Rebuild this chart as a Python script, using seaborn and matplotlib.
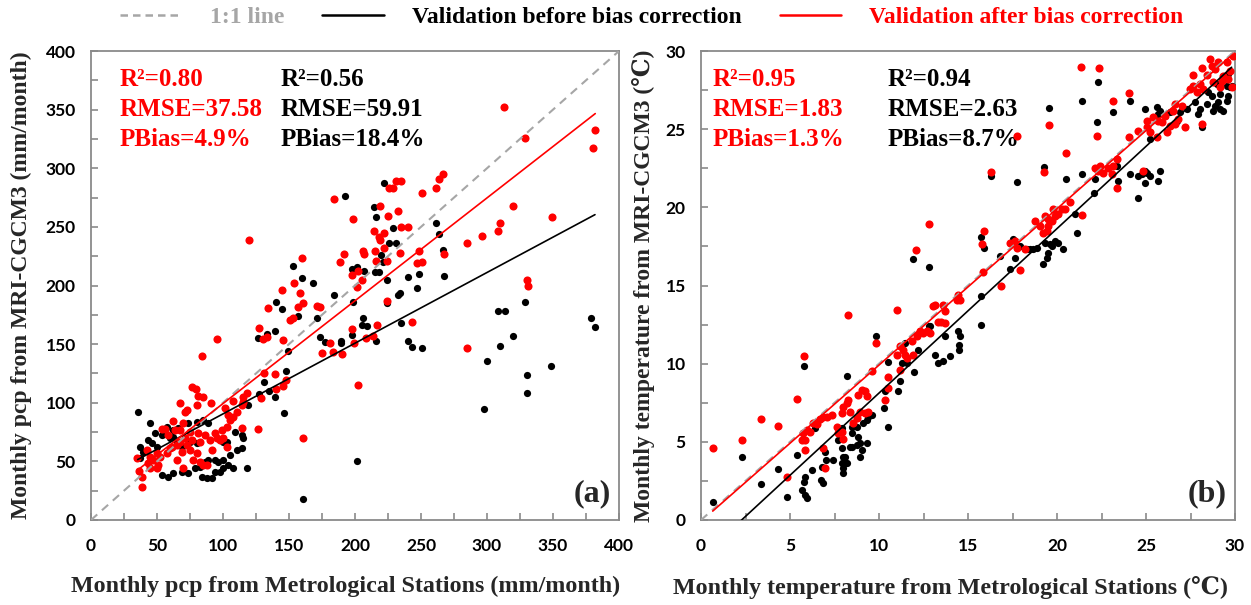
import numpy as np
import pandas as pd
import matplotlib
matplotlib.use("Agg")
import matplotlib.pyplot as plt
from matplotlib.lines import Line2D
from matplotlib.ticker import MultipleLocator
import seaborn as sns

# ---------------- data ----------------
# Panel (a): monthly precipitation (mm/month)
a_before_x = [222, 192.4, 214.6, 215.7, 229, 225.5, 231, 261, 264, 267, 219.5, 221.4, 198, 201.7, 207,
              215.4, 218.4, 224, 240, 248.5, 267.4, 246.7, 232.8, 234, 184, 198.7, 224, 206, 205, 209,
              235, 198, 189.4, 189.4, 216, 240.4, 243.4, 251, 308.6, 313.6, 328.8, 320, 309.8, 379,
              381.8, 173.5, 177,
              153.3, 160.1, 168.4, 140.2, 144.5, 157.1, 171,
              126.7, 133, 139.4, 149, 131, 134.8, 139.4, 146.4, 148, 119, 127, 35.4,
              44.7, 48.5, 53.5, 57.3, 62.3, 66.2, 73.7, 80.1, 85.1, 88.9, 37.1, 39.7, 43.4, 46, 49.7,
              37.1, 53.5, 58.6, 62.3, 68.7, 73.7, 78.8, 83.8, 87.6, 91.4, 93.9, 97.7, 100.3, 104,
              107.8, 110.4, 114.1, 115.4, 114.1, 118, 82.6, 86.4, 88.9, 93.9, 100.3, 105.3, 109.1,
              100.3, 102.8, 96.5, 75, 80.1, 64.9, 68.7, 59.8, 62.3,
              160.6, 201.6, 298, 300, 330, 330, 348.5]
a_before_y = [287, 276, 267, 258.7, 248.8, 236, 236.5, 253, 243.7, 230, 226, 220, 214, 216, 212.6,
              211.5, 211.5, 204.7, 207.5, 209.6, 208.4, 197.6, 192, 194, 192, 185.7, 184.8, 172.5, 166,
              165.5, 167.7, 157.8, 152.7, 150.7, 152.7, 152.7, 147.8, 146.4, 178, 178, 185.7, 157,
              148.7, 172, 165, 156, 152,
              216.6, 206.7, 202.4, 185.7, 179.7, 174.3, 172,
              155.5, 159, 161, 144, 118, 110, 105, 91.5, 127, 98, 107.5, 92,
              82.5, 73.9, 72.5, 79.6, 76.8, 78.2, 82.5, 83.9, 85.3, 82.5, 62.5, 58.3, 68.2, 65.4, 62.5,
              52.6, 38.4, 37, 39.8, 41.2, 39.8, 44.1, 37, 35.5, 35.5, 41.2, 41.2, 44.1, 46.9,
              44.1, 59.7, 61.1, 69.7, 72.5, 44.7, 45.5, 49.8, 51.2, 51.2, 51.2, 55.4, 75.3,
              66.8, 66.8, 49.8, 66.8, 65.4, 65.4, 62.5, 69.7, 71.1,
              18, 50, 95, 136, 124, 108, 131]

a_after_x = [313, 329, 382, 380, 267, 264, 261, 250.5, 235, 231, 229, 226, 184, 219, 232.6, 225, 198.7,
             235, 240, 214.6, 222, 218, 219, 320, 349, 310, 308.6, 296, 284.6, 192, 189, 206, 207,
             215.4, 215.6, 222, 224, 234, 248.5, 246.7, 251, 267.6, 198, 202.5, 205.5, 201.7, 224,
             243.4, 198, 199.5, 208, 214, 216.4, 284.6, 330, 331, 181, 174.8, 183.6, 190, 173.5,
             160.1, 153.8, 158.6, 160.8, 157.1, 171.5, 153.3,
             119.7, 144.5, 133.8, 127, 130.5, 133, 145.7, 150.8, 95.7, 83.8, 131.3, 139.4, 145.7, 148,
             76.3, 79.5, 81.3, 84.6, 67.4, 72.5, 71.4, 80, 90.7, 107.8, 115.4, 118, 128.8, 139.8,
             62.3, 56, 53.5, 35, 36.6, 38.4, 39,
             42.7, 44.7, 47.2, 51, 52.3, 57.3, 59.8, 64.9, 68.7, 69.9, 75, 72.5, 76.3, 77.5, 80.1, 82.6,
             85.1, 87.6, 91.4, 95.2, 97.7, 100.3, 102.8, 99, 102.8, 105.3, 104, 101.5, 107.8, 110.4,
             114.1, 115.4, 114.1, 126.8, 86.4, 81.3, 82.6, 90.2, 93.9, 75, 71.2, 67.4, 64.9, 61.1,
             49.7, 44.7, 43.4, 49.7, 58.6, 63.6, 67.4, 69.9,
             160.6, 202]
a_after_y = [352, 326, 333, 317, 295, 291, 283, 279, 289, 289, 283, 283, 274, 268, 263.5, 259.6, 257,
             250, 250, 246.5, 245, 241.6, 239, 268, 258, 253.6, 246.7, 242.5, 236, 226.6, 220, 229, 227,
             229.7, 220.6, 232, 220.6, 228, 229.7, 219, 220, 226.6, 209, 212, 205, 199, 187,
             169, 163, 150.7, 155.5, 157, 166, 147, 205, 200, 151, 142.7, 143.6, 142, 182,
             223.2, 202.4, 193.9, 185.4, 181.4, 182.5, 172,
             238.8, 196, 180.5, 164, 154.4, 156, 153.5, 171, 154.4, 140, 125.6, 124.3, 114.5, 119.4,
             113.7, 111.7, 106, 105, 99.5, 93.8, 92.4, 98, 100, 101.8, 105, 108, 103.8, 111.7,
             84.7, 78, 77.6, 53, 42, 37, 28,
             59.7, 54, 51.2, 46.9, 54, 56.9, 61.1, 51.2, 58.3, 44.1, 59.7, 64, 68.2, 51.2, 56.9, 49.8,
             46.9, 46.9, 59.7, 69.7, 68.2, 69.7, 62.5, 76.8, 79.6, 85.3, 89.6, 95.2, 88.2, 92.4,
             98.1, 100.9, 78.2, 77.8, 72.5, 73.9, 66.8, 68.2, 73.9, 75.3, 69.7, 66.8, 64, 62.5,
             44.1, 44.1, 48.9, 56.9, 72.5, 76.8, 76.8, 82.5,
             70, 115]

# Panel (b): monthly temperature (degC)
b_before_x = [0.66, 2.28, 3.35, 4.31, 4.85, 5.37, 5.79, 5.66, 5.79, 5.84, 5.94, 5.84, 6.22, 6.4, 6.73,
              6.85, 6.79, 6.97, 7.03, 7.43, 7.71, 7.9, 8, 7.9, 8, 8.09, 8.18, 8.09, 8, 7.9, 8.22, 8.37,
              8.47, 8.75, 8.47, 8.47, 8.75, 8.84, 8.93, 9.03, 8.93, 9.12, 9.31, 9.4, 9.31, 9.59, 9.83,
              10.3, 10.34, 10.5, 10.52, 11.08, 11.18, 11.27, 11.46, 11.55, 11.97, 12.17, 12.81, 13.15,
              13.33,
              11.93, 12.83, 15.73, 15.9, 15.73, 15.73, 16.29, 17.36, 17.64, 17.73, 18.3, 18.67, 18.86,
              19.33, 19.61, 19.89, 20.07, 20.35, 19.23, 19.42, 19.51, 19.7, 19.27, 20.51, 21.1, 21.01,
              21.42, 21.39, 22.08, 22.23, 22.32, 23.16, 23.35, 23.44, 24.1, 24.1, 24.57, 24.76, 24.94,
              25.04, 25.22, 24.94, 25.79, 25.69, 24.57, 24.94, 25.6, 25.79, 25.22, 25.69, 26.35, 26.72,
              26.91, 27.29, 27.75, 28.03, 27.94, 28.13, 28.41, 28.69, 28.78, 28.88, 29.06, 29.16,
              29.34, 29.53, 29.62, 29.72, 29.81, 28.5, 29.16, 29.53, 29.62, 28.97, 12.87, 13.71,
              14.46, 14.55, 16.8, 17.55, 17.92, 18.48, 22.13, 19.57,
              14.0, 14.5, 14.5, 13.6]
b_before_y = [1.17, 4.02, 2.31, 3.25, 1.5, 4.17, 9.85, 1.92, 2.46, 1.6, 1.39, 2.78, 3.21, 5.88, 2.56,
              2.35, 3.42, 4.38, 3.85, 3.85, 5.13, 4.59, 4.06, 3.63, 3.31, 3.63, 3.63, 4.06, 2.99, 5.88,
              9.23, 4.7, 4.7, 4.81, 5.56, 5.98, 5.98, 5.34, 4.91, 4.49, 4.06, 6.2, 6.41, 6.62, 4.91, 6.73,
              11.79, 7.16, 8.22, 5.98, 10.09, 8.22, 8.87, 10.04, 11.32, 10.04, 9.44, 10.9, 12.39, 10.58,
              10.04,
              16.71, 16.18, 18.1, 17.41, 14.36, 12.5, 22.01, 16.07, 16.77, 21.62, 17.35, 17.31, 17.41,
              17.74, 17.63, 17.84, 17.74, 17.31, 16.35, 16.77, 17.09, 17.52, 22.61, 21.84, 18.38, 19.55,
              22.12, 26.82, 20.94, 25.47, 27.99, 26.07, 22.65, 21.69, 26.82, 22.12, 22.01, 22.12, 22.33,
              22.22, 22.01, 21.58, 22.33, 21.69, 20.62, 26.28, 26.39, 26.17, 24.36, 25.96, 26.07, 25.53,
              26.07, 26.28, 26.71, 26.28, 25.96, 25.11, 26.6, 27.14, 26.17, 26.5, 26.71, 26.28,
              26.17, 26.82, 27.14, 27.67, 27.78, 27.35, 27.24, 27.78, 28.53, 27.88, 12.39, 11.75,
              12.07, 11.75, 16.88, 17.95, 17.52, 17.31, 21.79, 26.35,
              10.5, 11.2, 10.9, 10.2]

b_after_x = [0.66, 2.28, 3.35, 4.31, 4.85, 5.39, 5.79, 5.75, 5.84, 5.84, 5.66, 5.94, 6.12, 6.31, 6.5,
             6.69, 6.87, 7.06, 7.34, 6.87, 6.97, 7.62, 7.71, 7.9, 8, 7.9, 8, 8.18, 8.28, 8.37, 8.56,
             8.75, 8.93, 8.84, 9.03, 9.21, 9.31, 9.4, 9.21, 9.59, 8.28, 9.83, 10.34, 10.52, 10.5, 11.03,
             11.18, 11.37, 11.46, 11.18, 11.55, 11.93, 11.83, 12.12, 12.3, 12.49, 12.68, 12.87, 13.05,
             13.33, 11.03,
             12.83, 12.06, 13.15, 13.61, 13.71, 13.48, 13.71, 14.46, 14.55, 14.36, 15.77, 15.9, 15.83,
             16.29, 16.85, 17.36, 17.64, 17.73, 18.2, 17.92, 17.73, 18.76, 19.04, 19.33, 19.42, 19.51,
             19.7, 19.79, 19.89, 20.07, 20.26, 20.45, 19.51, 19.23, 19.27, 19.57, 20.49, 20.73, 21.39,
             21.35, 22.36, 22.23, 23.16, 24.06, 22.13, 22.42, 22.32, 22.6, 22.88, 23.16, 23.35, 23.07,
             23.39, 24.06, 24.57, 25.04, 25.22, 25.69, 25.88, 25.6, 26.16, 26.35, 26.63, 26.81, 27.19,
             26.63, 27.66, 28.13, 28.6, 28.69, 28.88, 29.06, 29.53, 29.72, 29.34, 29.16, 28.03, 28.22,
             28.13, 29.9, 29.81, 24.85, 25.04, 25.41, 27.66, 27.85, 27.47, 28.41, 28.78, 29.25, 29.63,
             26.07, 26.53, 27.0]
b_after_y = [4.6, 5.13, 6.47, 6.03, 2.78, 7.71, 10.47, 5.56, 5.09, 4.49, 5.13, 5.77, 5.66, 6.2, 6.16,
             6.45, 6.62, 6.62, 6.73, 4.59, 3.31, 5.98, 5.56, 5.66, 5.17, 6.84, 7.26, 7.48, 7.69, 6.94, 6.2,
             6.52, 6.94, 8.01, 8.33, 8.22, 7.9, 6.94, 6.84, 9.51, 13.14, 11.32, 7.69, 8.44, 9.12, 13.46,
             11.11, 10.9, 10.58, 9.62, 10.36, 10.58, 11.43, 11.75, 12.07, 11.97, 12.07, 11.97, 13.72,
             12.65, 10.58,
             18.95, 17.24, 13.74, 13.74, 13.35, 12.65, 12.61, 14.42, 14.1, 14.1, 17.63, 18.48, 15.85,
             22.26, 14.96, 17.69, 17.84, 17.41, 17.35, 15.96, 24.57, 19.12, 18.8, 19.44, 18.48, 19.23,
             19.12, 19.87, 19.44, 19.55, 19.87, 19.87, 18.8, 18.38, 22.26, 25.28, 23.46, 20.36, 19.49,
             28.99, 28.89, 24.57, 26.77, 27.29, 22.54, 22.65, 22.33, 22.22, 22.54, 22.65, 23.08, 22.12,
             21.26, 24.47, 24.89, 25.11, 24.79, 25.53, 25.43, 24.47, 24.79, 25.21, 25.32, 25.64, 25.11,
             26.6, 28.46, 28.89, 29.49, 29.06, 28.85, 29.27, 29.27, 28.74, 28.42, 27.67, 27.88, 27.56,
             25.32, 29.7, 27.67, 22.33, 25.53, 25.75, 27.78, 27.35, 27.56, 28.46, 27.99, 28.1, 28.21,
             25.85, 26.17, 26.5]

# regression lines (slope, intercept)
a_fit_before = [0.603, 30.2]
a_fit_after = [0.877, 11.6]
b_fit_before = [1.052, -2.4]
b_fit_after = [1.0, -0.09]

# statistics
a_stats_after = ["R²=0.80", "RMSE=37.58", "PBias=4.9%"]
a_stats_before = ["R²=0.56", "RMSE=59.91", "PBias=18.4%"]
b_stats_after = ["R²=0.95", "RMSE=1.83", "PBias=1.3%"]
b_stats_before = ["R²=0.94", "RMSE=2.63", "PBias=8.7%"]

legend_labels = ["1:1 line", "Validation before bias correction", "Validation after bias correction"]

# ---------------- style ----------------
sns.set_theme(style="white")
plt.rcParams["font.family"] = ["Liberation Serif", "DejaVu Serif"]

RED = "#FF0000"
GRAY_LINE = "#A6A6A6"
SPINE = "#8A8A8A"
SERIF = ["Liberation Serif", "DejaVu Serif"]
TICKFONT = ["Lato", "DejaVu Sans"]

fig = plt.figure(figsize=(12.51, 6.05), dpi=100)
ax_a = fig.add_axes([91 / 1251, 1 - 520 / 605, 528 / 1251, 469 / 605])
ax_b = fig.add_axes([701 / 1251, 1 - 520 / 605, 534 / 1251, 469 / 605])


def panel(ax, bx, by, rx, ry, fit_b, fit_r, lim, major, minor, xlabel, ylabel,
          stats_r, stats_b, stat_x_r, stat_x_b, tag, xl_coords, yl_coords):
    df_b = pd.DataFrame({"x": bx, "y": by})
    df_r = pd.DataFrame({"x": rx, "y": ry})
    sns.scatterplot(data=df_b, x="x", y="y", ax=ax, color="black", s=27, linewidth=0, zorder=3)
    sns.scatterplot(data=df_r, x="x", y="y", ax=ax, color=RED, s=34, linewidth=0, zorder=4)
    # 1:1 line
    ax.plot([0, lim], [0, lim], ls=(0, (4, 3)), color=GRAY_LINE, lw=1.5, zorder=5)
    # fit lines
    xb = np.array([min(bx), max(bx)])
    xr = np.array([min(rx), max(rx)])
    ax.plot(xb, fit_b[0] * xb + fit_b[1], color="black", lw=1.2, zorder=6)
    ax.plot(xr, fit_r[0] * xr + fit_r[1], color=RED, lw=1.2, zorder=6)

    ax.set_xlim(0, lim)
    ax.set_ylim(0, lim)
    ax.xaxis.set_major_locator(MultipleLocator(major))
    ax.yaxis.set_major_locator(MultipleLocator(major))
    ax.xaxis.set_minor_locator(MultipleLocator(minor))
    ax.yaxis.set_minor_locator(MultipleLocator(minor))
    ax.tick_params(which="both", direction="in", length=5, width=1.2, color=SPINE,
                   bottom=True, left=True, top=False, right=False)
    ax.tick_params(axis="x", which="major", pad=13)
    ax.tick_params(axis="y", which="major", pad=11)
    for lab in ax.get_xticklabels() + ax.get_yticklabels():
        lab.set_fontfamily(TICKFONT)
        lab.set_fontweight("bold")
        lab.set_fontsize(12.5)
        lab.set_color("black")
    for sp in ax.spines.values():
        sp.set_color(SPINE)
        sp.set_linewidth(1.3)
        sp.set_visible(True)

    ax.set_xlabel(xlabel, fontsize=17.3, fontweight="bold", family=SERIF)
    ax.set_ylabel(ylabel, fontsize=17, fontweight="bold", family=SERIF)
    ax.xaxis.set_label_coords(*xl_coords)
    ax.yaxis.set_label_coords(*yl_coords)

    for i, (tr, tb) in enumerate(zip(stats_r, stats_b)):
        yy = 0.94 - i * 0.064
        ax.text(stat_x_r, yy, tr, transform=ax.transAxes, color=RED, fontsize=18,
                fontweight="bold", family=SERIF, va="center", ha="left")
        ax.text(stat_x_b, yy, tb, transform=ax.transAxes, color="black", fontsize=18,
                fontweight="bold", family=SERIF, va="center", ha="left")
    ax.text(0.985, 0.025, tag, transform=ax.transAxes, fontsize=23, fontweight="bold",
            family=SERIF, ha="right", va="bottom")


panel(ax_a, a_before_x, a_before_y, a_after_x, a_after_y, a_fit_before, a_fit_after,
      400, 50, 25,
      "Monthly pcp from Metrological Stations (mm/month)",
      "Monthly pcp from MRI-CGCM3 (mm/month)",
      a_stats_after, a_stats_before, (120 - 91) / 528, (281 - 91) / 528, "(a)",
      ((346 - 91) / 528, (520 - 576) / 469), ((32 - 91) / 528, 0.5))
panel(ax_b, b_before_x, b_before_y, b_after_x, b_after_y, b_fit_before, b_fit_after,
      30, 5, 2.5,
      "Monthly temperature from Metrological Stations (℃)",
      "Monthly temperature from MRI-CGCM3 (℃)",
      b_stats_after, b_stats_before, (713 - 701) / 534, (888 - 701) / 534, "(b)",
      ((950 - 701) / 534, (520 - 576) / 469), ((655 - 701) / 534, 0.5))

handles = [Line2D([], [], color=GRAY_LINE, ls=(0, (3, 2)), lw=1.8),
           Line2D([], [], color="black", lw=1.8),
           Line2D([], [], color=RED, lw=1.8)]
leg = fig.legend(handles, legend_labels, loc="center", bbox_to_anchor=(652 / 1251, 1 - 17 / 605),
                 ncol=3, frameon=False, handlelength=2.6, handletextpad=1.2, columnspacing=1.6,
                 prop={"family": SERIF, "weight": "bold", "size": 17})
for t, c in zip(leg.get_texts(), ["#A6A6A6", "black", RED]):
    t.set_color(c)

fig.savefig("out.png", dpi=100)
